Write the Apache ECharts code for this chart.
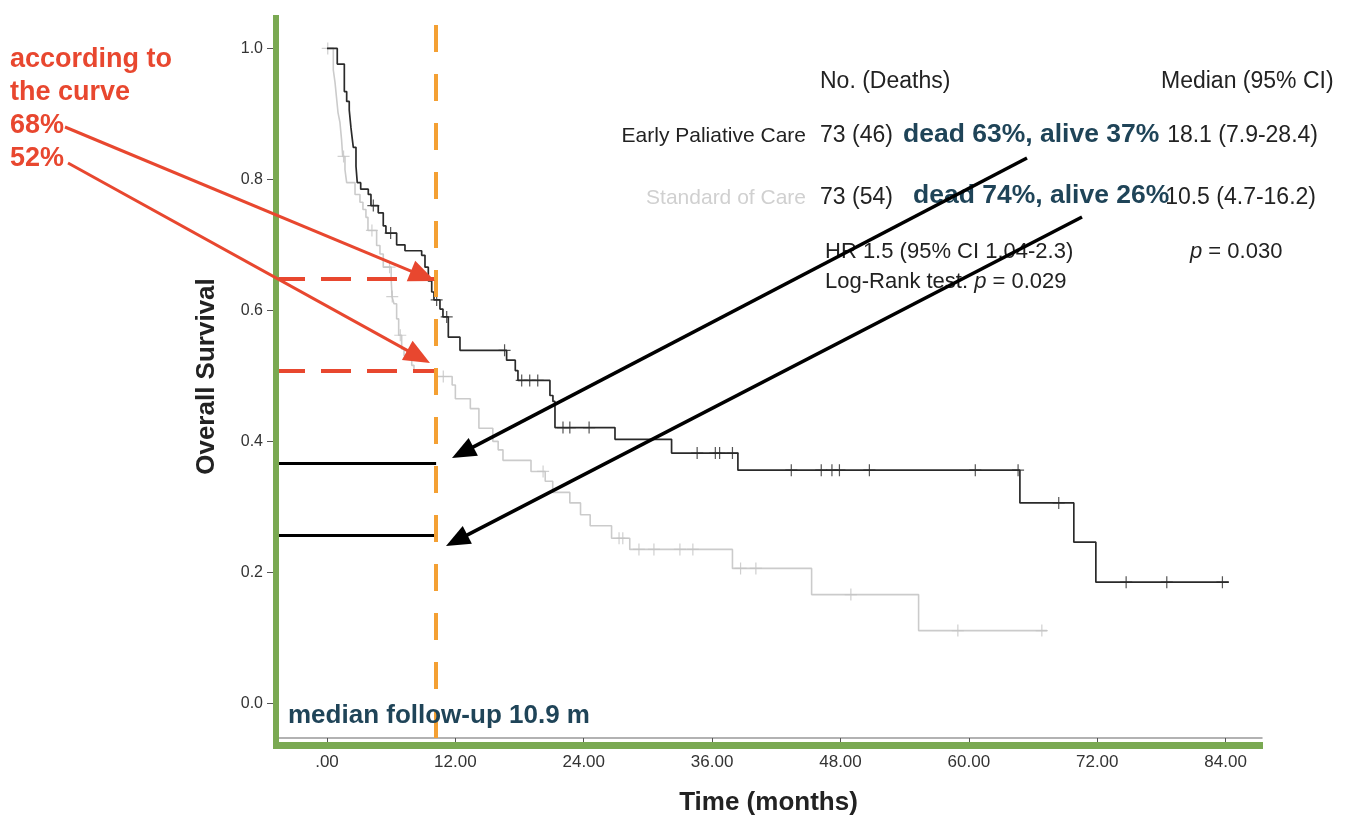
<!DOCTYPE html>
<html><head><meta charset="utf-8">
<script src="https://cdn.jsdelivr.net/npm/echarts@6/dist/echarts.min.js"></script>
<style>html,body{margin:0;padding:0;background:#fff}#c{width:1354px;height:821px}</style>
</head><body><div id="c"></div>
<script>
// ---------- data ----------
const xTicks = [0, 12, 24, 36, 48, 60, 72, 84];
const yTicks = [0, 0.2, 0.4, 0.6, 0.8, 1.0];

// Early Palliative Care (black) KM steps: time of change, survival after change
const earlyTimes = [0, 0.96, 1.62, 1.84, 2.08, 2.24, 2.34, 2.46, 2.71, 2.83, 3.15, 3.86, 4.11, 4.79, 5.26, 5.51, 6.51, 7.29, 8.85, 9.16, 9.47, 9.79, 10.0, 10.56, 10.84, 11.34, 12.43, 16.79, 17.6, 17.85, 20.84, 21.12, 21.31, 26.92, 32.21, 38.41, 64.77, 69.81, 71.87, 84.3];
const earlySurv  = [1.0, 0.976, 0.934, 0.919, 0.906, 0.879, 0.865, 0.849, 0.820, 0.795, 0.785, 0.777, 0.760, 0.749, 0.729, 0.718, 0.700, 0.691, 0.684, 0.666, 0.645, 0.628, 0.616, 0.602, 0.590, 0.559, 0.539, 0.524, 0.508, 0.493, 0.470, 0.461, 0.421, 0.403, 0.382, 0.356, 0.306, 0.246, 0.185, 0.185];
const earlyCensor = [4.33, 5.95, 10.25, 11.19, 16.6, 18.2, 18.95, 19.7, 22.06, 22.7, 24.5, 34.6, 36.3, 36.7, 37.9, 43.4, 46.2, 47.2, 47.9, 50.7, 60.6, 64.6, 68.4, 74.7, 78.5, 83.7];

// Standard of Care (light gray)
const standardTimes = [0, 0.59, 0.75, 0.89, 1.03, 1.21, 1.36, 1.47, 1.68, 1.84, 2.62, 3.08, 3.36, 3.64, 3.83, 4.64, 4.95, 5.26, 6.0, 6.08, 6.26, 6.51, 6.7, 6.98, 7.2, 7.92, 8.13, 10.25, 11.7, 12.0, 13.4, 14.2, 15.5, 16.0, 16.45, 19.07, 20.4, 21.1, 22.7, 23.7, 24.6, 26.6, 28.3, 37.9, 45.3, 55.3, 67.3];
const standardSurv  = [1.0, 0.967, 0.948, 0.925, 0.902, 0.887, 0.861, 0.835, 0.815, 0.795, 0.777, 0.765, 0.754, 0.742, 0.722, 0.699, 0.686, 0.666, 0.648, 0.621, 0.610, 0.587, 0.562, 0.541, 0.531, 0.516, 0.508, 0.499, 0.486, 0.465, 0.450, 0.420, 0.400, 0.387, 0.371, 0.354, 0.339, 0.322, 0.306, 0.288, 0.271, 0.252, 0.235, 0.206, 0.166, 0.111, 0.111];
const standardCensor = [0.07, 1.55, 4.2, 5.85, 6.1, 6.85, 10.87, 20.2, 27.3, 27.65, 29.16, 30.56, 32.99, 34.2, 38.66, 40.09, 48.97, 58.97, 66.82];

// annotation values
const followUpMark = 10.2;
const curveReadings = [0.649, 0.508];   // red dashed levels
const aliveLevels = [0.367, 0.257];     // black solid levels

// ---------- helpers ----------
function pairs(ts, ss) { return ts.map((t, i) => [t, ss[i]]); }
function survAt(ts, ss, t) { let v = ss[0]; for (let i = 0; i < ts.length; i++) { if (ts[i] <= t) v = ss[i]; } return v; }
const XMIN = -4.86, XMAX = 87.4;
const F = '"Liberation Sans", Arial, Helvetica, sans-serif';
const TEAL = '#1f4458', RED = '#e8472f', GREEN = '#7aa952', ORANGE = '#f4a033';
const PLUS = 'path://M9,0H11V9H20V11H11V20H9V11H0V9H9Z';

function arrow(x1, y1, x2, y2, color, w, hl, hw) {
  const dx = x2 - x1, dy = y2 - y1, L = Math.hypot(dx, dy), ux = dx / L, uy = dy / L;
  const bx = x2 - ux * hl, by = y2 - uy * hl, px = -uy, py = ux;
  return [
    { type: 'line', z: 60, shape: { x1: x1, y1: y1, x2: bx + ux * 2, y2: by + uy * 2 }, style: { stroke: color, lineWidth: w } },
    { type: 'polygon', z: 60, shape: { points: [[x2, y2], [bx + px * hw / 2, by + py * hw / 2], [bx - px * hw / 2, by - py * hw / 2]] }, style: { fill: color } }
  ];
}
function txt(x, y, text, font, fill, align, z, rich) {
  const st = { text: text, font: font, fill: fill, align: align || 'left', verticalAlign: 'middle' };
  if (rich) st.rich = rich;
  return { type: 'text', x: x, y: y, z: z || 50, style: st };
}
const richP = { i: { fontStyle: 'italic', fontSize: 22, fontFamily: F, fill: '#222' } };

const graphics = [].concat(
  [
    { type: 'rect', z: 40, shape: { x: 273, y: 15, width: 6, height: 734 }, style: { fill: GREEN } },
    { type: 'rect', z: 40, shape: { x: 276, y: 742, width: 987, height: 7 }, style: { fill: GREEN } },
    txt(10, 60, 'according to', 'bold 27px ' + F, RED),
    txt(10, 93, 'the curve', 'bold 27px ' + F, RED),
    txt(10, 126, '68%', 'bold 27px ' + F, RED),
    txt(10, 159, '52%', 'bold 27px ' + F, RED),
    txt(820, 82, 'No. (Deaths)', '23px ' + F, '#222'),
    txt(1161, 82, 'Median (95% CI)', '23px ' + F, '#222'),
    txt(806, 136, 'Early Paliative Care', '21px ' + F, '#222', 'right'),
    txt(820, 136, '73 (46)', '23px ' + F, '#222'),
    txt(1318, 136, '18.1 (7.9-28.4)', '23px ' + F, '#222', 'right'),
    txt(903, 135, 'dead 63%, alive 37%', 'bold 26.5px ' + F, TEAL, 'left', 55),
    txt(806, 198, 'Standard of Care', '21px ' + F, '#d0d0d0', 'right'),
    txt(820, 198, '73 (54)', '23px ' + F, '#222'),
    txt(1316, 198, '10.5 (4.7-16.2)', '23px ' + F, '#222', 'right'),
    txt(913, 196, 'dead 74%, alive 26%', 'bold 26.5px ' + F, TEAL, 'left', 55),
    txt(825, 252, 'HR 1.5 (95% CI 1.04-2.3)', '22px ' + F, '#222'),
    txt(1190, 252, '{i|p} = 0.030', '22px ' + F, '#222', 'left', 50, richP),
    txt(825, 282, 'Log-Rank test: {i|p} = 0.029', '22px ' + F, '#222', 'left', 50, richP),
    txt(288, 716, 'median follow-up 10.9 m', 'bold 26px ' + F, TEAL, 'left', 55)
  ],
  arrow(65, 127, 435, 281, RED, 3, 26, 22),
  arrow(68, 163, 430, 363, RED, 3, 26, 22),
  arrow(1027, 158, 452, 458, '#000', 3.5, 24, 20),
  arrow(1082, 217, 446, 546, '#000', 3.5, 24, 20)
);

const chart = echarts.init(document.getElementById('c'));
chart.setOption({
  animation: false,
  backgroundColor: '#fff',
  grid: { left: 275, right: 92, top: 15, bottom: 80, containLabel: false },
  xAxis: {
    type: 'value', min: XMIN, max: XMAX,
    name: 'Time (months)', nameLocation: 'middle', nameGap: 52,
    nameTextStyle: { fontFamily: F, fontWeight: 'bold', fontSize: 26, color: '#222' },
    axisLine: { show: true, onZero: false, lineStyle: { color: '#999', width: 1.5 } },
    axisTick: { show: true, customValues: xTicks, length: 8, lineStyle: { color: '#555' } },
    axisLabel: { customValues: xTicks, fontFamily: F, fontSize: 17, color: '#333', margin: 16,
      formatter: v => (v === 0 ? '.00' : v.toFixed(2)) },
    splitLine: { show: false }
  },
  yAxis: {
    type: 'value', min: -0.053, max: 1.051,
    name: 'Overall Survival', nameLocation: 'middle', nameGap: 55,
    nameTextStyle: { fontFamily: F, fontWeight: 'bold', fontSize: 26, color: '#222' },
    axisLine: { show: false, onZero: false },
    axisTick: { show: true, customValues: yTicks, length: 8, lineStyle: { color: '#555' } },
    axisLabel: { customValues: yTicks, fontFamily: F, fontSize: 16, color: '#333', margin: 12,
      formatter: v => v.toFixed(1) },
    splitLine: { show: false }
  },
  series: [
    {
      name: 'Standard of Care', type: 'line', step: 'end', symbol: 'none', z: 3,
      data: pairs(standardTimes, standardSurv),
      lineStyle: { color: '#cbcbcb', width: 1.6 }
    },
    {
      name: 'Standard of Care censored', type: 'scatter', symbol: PLUS, symbolSize: 12, z: 3,
      data: standardCensor.map(t => [t, survAt(standardTimes, standardSurv, t)]),
      itemStyle: { color: '#c4c4c4' }
    },
    {
      name: 'Early Paliative Care', type: 'line', step: 'end', symbol: 'none', z: 4,
      data: pairs(earlyTimes, earlySurv),
      lineStyle: { color: '#2a2a2a', width: 1.7 },
      markLine: {
        silent: true, symbol: ['none', 'none'], label: { show: false }, animation: false,
        data: [
          [{ coord: [XMIN, curveReadings[0]], lineStyle: { color: RED, width: 4, type: [30, 16] } }, { coord: [followUpMark, curveReadings[0]] }],
          [{ coord: [XMIN, curveReadings[1]], lineStyle: { color: RED, width: 4, type: [30, 16] } }, { coord: [followUpMark, curveReadings[1]] }],
          [{ coord: [XMIN, aliveLevels[0]], lineStyle: { color: '#000', width: 3, type: 'solid' } }, { coord: [followUpMark, aliveLevels[0]] }],
          [{ coord: [XMIN, aliveLevels[1]], lineStyle: { color: '#000', width: 3, type: 'solid' } }, { coord: [followUpMark, aliveLevels[1]] }],
          { xAxis: followUpMark, lineStyle: { color: ORANGE, width: 4, type: [27, 22] } }
        ]
      }
    },
    {
      name: 'Early Paliative Care censored', type: 'scatter', symbol: PLUS, symbolSize: 12, z: 4,
      data: earlyCensor.map(t => [t, survAt(earlyTimes, earlySurv, t)]),
      itemStyle: { color: '#2a2a2a' }
    }
  ],
  graphic: graphics
});
</script></body></html>
